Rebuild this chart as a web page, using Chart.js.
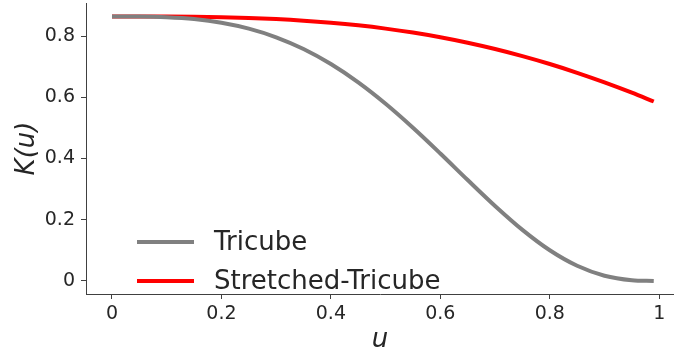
<!DOCTYPE html>
<html>
<head>
<meta charset="utf-8">
<script src="https://cdn.jsdelivr.net/npm/chart.js@4"></script>
<style>
  body { margin: 0; background: #fff; }
  canvas { display: block; }
</style>
</head>
<body>
<canvas id="kernelChart" width="674" height="356"></canvas>
<script>
// valores
const uValues = [0, 0.05, 0.1, 0.15, 0.2, 0.25, 0.3, 0.35, 0.4, 0.45, 0.5,
                 0.55, 0.6, 0.65, 0.7, 0.75, 0.8, 0.85, 0.9, 0.95, 0.99];
const tricube = [0.8642, 0.8639, 0.8616, 0.8555, 0.8436, 0.8243, 0.7961, 0.7577, 0.7087, 0.6488, 0.5789,
                 0.5006, 0.4165, 0.3298, 0.2451, 0.1670, 0.1004, 0.0497, 0.0172, 0.0025, 0.0000];
const stretched = [0.8642, 0.8642, 0.8639, 0.8631, 0.8616, 0.8591, 0.8555, 0.8504, 0.8436, 0.8350, 0.8243,
                   0.8114, 0.7961, 0.7782, 0.7577, 0.7345, 0.7087, 0.6801, 0.6488, 0.6151, 0.5863];
const xTicks = [0, 0.2, 0.4, 0.6, 0.8, 1];
const yTicks = [0, 0.2, 0.4, 0.6, 0.8];
const seriesLabels = ['Tricube', 'Stretched-Tricube'];

const textColor = '#262626';
const axisColor = '#404040';

function pontos(ys) {
    return uValues.map((u, i) => ({ x: u, y: ys[i] }));
}

function fmt(v) {
    return Math.abs(v) < 1e-9 ? '0' : String(Math.round(v * 10) / 10);
}

// legenda dentro da area do grafico (canto inferior esquerdo)
const legendaInterna = {
    id: 'legendaInterna',
    afterDatasetsDraw(chart) {
        const ctx = chart.ctx;
        const rows = [242, 281];
        ctx.save();
        ctx.font = '26px "DejaVu Sans"';
        ctx.textBaseline = 'middle';
        ctx.textAlign = 'left';
        chart.data.datasets.forEach((ds, i) => {
            ctx.strokeStyle = ds.borderColor;
            ctx.lineWidth = ds.borderWidth;
            ctx.beginPath();
            ctx.moveTo(137, rows[i]);
            ctx.lineTo(194, rows[i]);
            ctx.stroke();
            ctx.fillStyle = textColor;
            ctx.fillText(ds.label, 214, rows[i] + 1);
        });
        ctx.restore();
    }
};

new Chart(document.getElementById('kernelChart').getContext('2d'), {
    type: 'line',
    data: {
        datasets: [{
            label: seriesLabels[0],
            data: pontos(tricube),
            borderColor: '#808080',
            borderWidth: 4,
            pointRadius: 0,
            cubicInterpolationMode: 'monotone'
        }, {
            label: seriesLabels[1],
            data: pontos(stretched),
            borderColor: '#ff0000',
            borderWidth: 4,
            pointRadius: 0,
            cubicInterpolationMode: 'monotone'
        }]
    },
    options: {
        responsive: false,
        animation: false,
        layout: { padding: { top: 3, right: 0, left: 0, bottom: 0 } },
        plugins: { legend: { display: false }, tooltip: { enabled: false } },
        scales: {
            x: {
                type: 'linear',
                min: -0.0475,
                max: 1.027,
                afterFit: s => { s.height = 62; s.paddingLeft = 0; s.paddingRight = 0; },
                afterBuildTicks: s => { s.ticks = xTicks.map(v => ({ value: v })); },
                grid: { drawOnChartArea: false, drawTicks: true, tickLength: 5, color: axisColor },
                border: { color: axisColor, width: 1 },
                ticks: {
                    color: textColor,
                    font: { family: 'DejaVu Sans', size: 19 },
                    padding: 4,
                    maxRotation: 0,
                    callback: v => fmt(v)
                },
                title: {
                    display: true,
                    text: 'u',
                    color: textColor,
                    font: { family: 'DejaVu Sans', size: 26, style: 'italic' },
                    padding: { top: 0, bottom: 0 }
                }
            },
            y: {
                min: -0.0425,
                max: 0.908,
                afterFit: s => { s.width = 86; s.paddingTop = 0; s.paddingBottom = 0; },
                afterBuildTicks: s => { s.ticks = yTicks.map(v => ({ value: v })); },
                grid: { drawOnChartArea: false, drawTicks: true, tickLength: 5, color: axisColor },
                border: { color: axisColor, width: 1 },
                ticks: {
                    color: textColor,
                    font: { family: 'DejaVu Sans', size: 19 },
                    padding: 6,
                    callback: v => fmt(v)
                },
                title: {
                    display: true,
                    text: 'K(u)',
                    color: textColor,
                    font: { family: 'DejaVu Sans', size: 26, style: 'italic' },
                    padding: { top: 12, bottom: 0 }
                }
            }
        }
    },
    plugins: [legendaInterna]
});
</script>
</body>
</html>
